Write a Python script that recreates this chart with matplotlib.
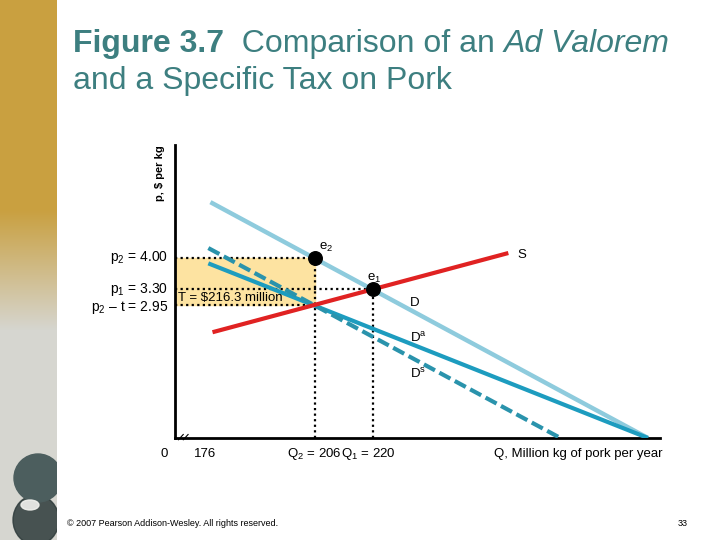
import numpy as np
import matplotlib
matplotlib.use("Agg")
import matplotlib.pyplot as plt
from matplotlib.patches import Circle, Ellipse

plt.rcParams['font.family'] = ['Liberation Sans', 'DejaVu Sans']
plt.rcParams['mathtext.fontset'] = 'custom'
plt.rcParams['mathtext.rm'] = 'Liberation Sans'
plt.rcParams['mathtext.it'] = 'Liberation Sans:italic'
plt.rcParams['mathtext.default'] = 'regular'

# data: quantity (million kg) and price ($ per kg)
demand_q = [181, 286]
demand_p = [5.24, 0.0]
supply_q = [181.5, 252.5]
supply_p = [2.35, 4.11]
da_q = [180.5, 286]
da_p = [3.88, 0.0]
ds_q = [180.5, 265]
ds_p = [4.22, 0.0]

q1, p1 = 220, 3.30
q2, p2 = 206, 4.00
p2_t = 2.95

fig = plt.figure(figsize=(7.2, 5.4), dpi=100)

# left decorative strip
strip = fig.add_axes([0, 0, 57 / 720, 1])
rows = np.arange(540)
gold = np.array([201, 160, 64]) / 255
gray = np.array([214, 214, 208]) / 255
w = np.clip((rows - 210) / 120, 0, 1)[:, None]
grad = (1 - w) * gold + w * gray
strip.imshow(grad[:, None, :], aspect='auto', extent=[0, 57, 540, 0])
strip.add_patch(Ellipse((36, 520), 46, 50, color='#2e3b3b', alpha=0.85))
strip.add_patch(Circle((38, 478), 24, color='#4c5e5e'))
strip.add_patch(Ellipse((30, 505), 18, 10, color='#f2f2ee', alpha=0.9))
strip.set_xlim(0, 57)
strip.set_ylim(540, 0)
strip.axis('off')

# title
title_color = '#3d7f80'
fig.canvas.draw()
renderer = fig.canvas.get_renderer()
x0 = 73 / 720
y1 = 1 - 52 / 540
pieces = [("Figure 3.7", 'bold', 'normal'), ("  Comparison of an ", 'normal', 'normal'),
          ("Ad Valorem", 'normal', 'italic')]
x = x0
for s, wt, st in pieces:
    t = fig.text(x, y1, s, fontsize=23, color=title_color, fontweight=wt, fontstyle=st,
                 va='baseline', ha='left')
    bb = t.get_window_extent(renderer)
    x += bb.width / 720
fig.text(x0, 1 - 89 / 540, "and a Specific Tax on Pork", fontsize=23, color=title_color,
         va='baseline', ha='left')

# main axes
ax = fig.add_axes([175 / 720, 1 - 438 / 540, (660 - 175) / 720, (438 - 145) / 540])
ax.set_xlim(172.5, 288.9)
ax.set_ylim(0, 6.51)
for side in ['top', 'right']:
    ax.spines[side].set_visible(False)
for side in ['left', 'bottom']:
    ax.spines[side].set_linewidth(2)
ax.set_xticks([])
ax.set_yticks([])

# tax revenue area
ax.fill_between([172.5, q2], p2_t, p2, color='#fde3a1', zorder=1)

dot = dict(color='black', lw=1.6, linestyle=(0, (1, 1.5)), zorder=2)
ax.plot([172.5, q2], [p2, p2], **dot)
ax.plot([172.5, q1], [p1, p1], **dot)
ax.plot([172.5, q2], [p2_t, p2_t], **dot)
ax.plot([q2, q2], [0, p2], **dot)
ax.plot([q1, q1], [0, p1], **dot)

ax.plot(demand_q, demand_p, color='#8ecbdd', lw=3.2, solid_capstyle='butt', zorder=3)
ax.plot(da_q, da_p, color='#1d9cbf', lw=3.0, solid_capstyle='butt', zorder=4)
ax.plot(ds_q, ds_p, color='#2a93ac', lw=3.0, linestyle=(0, (3, 1.2)), zorder=4)
ax.plot(supply_q, supply_p, color='#e02222', lw=3.0, solid_capstyle='butt', zorder=5)
ax.scatter([q2, q1], [p2, p1], s=95, color='black', zorder=6)

fs = 9.5
ax.text(173.2, 3.12, "T = \\$216.3 million", fontsize=fs, va='center', ha='left', zorder=7)
ax.text(207.0, 4.08, "e$_2$", fontsize=fs, va='bottom', ha='left')
ax.text(218.6, 3.40, "e$_1$", fontsize=fs, va='bottom', ha='left')
ax.text(254.6, 4.07, "S", fontsize=fs, va='center', ha='left')
ax.text(228.8, 3.00, "D", fontsize=fs, va='center', ha='left')
ax.text(228.8, 2.22, "D$^{a}$", fontsize=fs, va='center', ha='left')
ax.text(228.8, 1.42, "D$^{s}$", fontsize=fs, va='center', ha='left')

ytr = ax.get_yaxis_transform()
ax.text(-0.015, p2, "p$_2$ = 4.00", fontsize=10, va='center', ha='right', transform=ytr)
ax.text(-0.015, p1, "p$_1$ = 3.30", fontsize=10, va='center', ha='right', transform=ytr)
ax.text(-0.015, p2_t - 0.05, "p$_2$ – t = 2.95", fontsize=10, va='center', ha='right', transform=ytr)
ax.text(-0.02, 1.0, "p, \\$ per kg", fontsize=8, fontweight='bold', rotation=90,
        va='top', ha='right', transform=ax.transAxes)

xtr = ax.get_xaxis_transform()
ax.text(170.0, -0.055, "0", fontsize=fs, va='center', ha='center', transform=xtr)
ax.text(179.7, -0.055, "176", fontsize=fs, va='center', ha='center', transform=xtr)
ax.text(q2, -0.055, "Q$_2$ = 206", fontsize=fs, va='center', ha='center', transform=xtr)
ax.text(q1 - 1, -0.055, "Q$_1$ = 220", fontsize=fs, va='center', ha='center', transform=xtr)
ax.text(1.006, -0.055, "Q, Million kg of pork per year", fontsize=fs, va='center', ha='right',
        transform=ax.transAxes)

# axis break marks
for dx in [0.012, 0.022]:
    ax.plot([dx - 0.005, dx + 0.005], [-0.006, 0.012], color='black', lw=0.8,
            transform=ax.transAxes, clip_on=False)

fig.text(67 / 720, 1 - 524 / 540, "© 2007 Pearson Addison-Wesley. All rights reserved.",
         fontsize=6.5, va='center', ha='left')
fig.text(683 / 720, 1 - 524 / 540, "33", fontsize=6.5, va='center', ha='center')

fig.savefig("out.png", dpi=100)
